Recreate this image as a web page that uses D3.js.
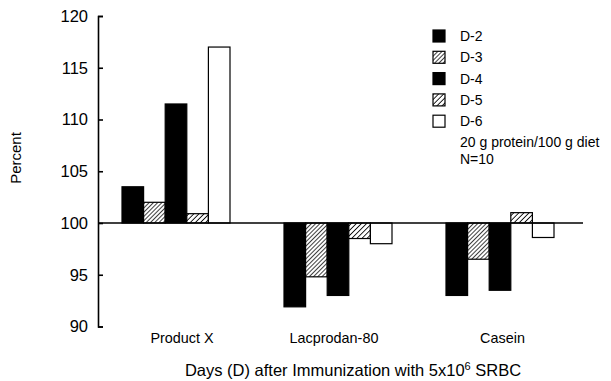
<!DOCTYPE html>
<html>
<head>
<meta charset="utf-8">
<script src="https://cdn.jsdelivr.net/npm/d3@7"></script>
<style>
  body { margin: 0; background: #fff; }
  svg text { font-family: "Liberation Sans", Arial, Helvetica, sans-serif; fill: #000; }
</style>
</head>
<body>
<svg id="chart" width="611" height="381"></svg>
<script>
// Percent response by day after immunization, per protein source

const groups = ['Product X', 'Lacprodan-80', 'Casein'];
const days = ['D-2', 'D-3', 'D-4', 'D-5', 'D-6'];
const productX = [103.5, 102, 111.5, 100.9, 117];
const lacprodan = [91.9, 94.8, 93, 98.5, 98];
const casein = [93, 96.5, 93.5, 101, 98.6];
const yTicks = [90, 95, 100, 105, 110, 115, 120];
const notes = ['20 g protein/100 g diet', 'N=10'];

const rows = [productX, lacprodan, casein].map((vals, i) => ({
  group: groups[i],
  values: days.map((d, j) => ({ day: d, value: vals[j] }))
}));

const svg = d3.select('#chart');
const AX = 98;

const y = d3.scaleLinear().domain([90, 120]).range([326.5, 16]);
const x0 = d3.scaleBand().domain(groups).range([95, 581]).paddingInner(1 / 3).paddingOuter(1 / 6);
const x1 = d3.scaleBand().domain(days).range([0, x0.bandwidth()]);

// hatch patterns for D-3 and D-5
const defs = svg.append('defs');
function hatch(id, gap, w) {
  const p = defs.append('pattern')
    .attr('id', id)
    .attr('patternUnits', 'userSpaceOnUse')
    .attr('width', gap).attr('height', gap)
    .attr('patternTransform', 'rotate(45)');
  p.append('rect').attr('width', gap).attr('height', gap).attr('fill', '#fff');
  p.append('line').attr('x1', 0).attr('y1', 0).attr('x2', 0).attr('y2', gap)
    .attr('stroke', '#000').attr('stroke-width', w);
}
hatch('h3', 3, 1.5);
hatch('h5', 3.6, 1.7);

const fills = { 'D-2': '#000', 'D-3': 'url(#h3)', 'D-4': '#000', 'D-5': 'url(#h5)', 'D-6': '#fff' };

// bars
const g = svg.selectAll('g.grp')
  .data(rows)
  .join('g')
  .attr('class', 'grp')
  .attr('transform', d => `translate(${x0(d.group)},0)`);

g.selectAll('rect')
  .data(d => d.values)
  .join('rect')
  .attr('x', d => x1(d.day))
  .attr('width', x1.bandwidth())
  .attr('y', d => y(Math.max(d.value, 100)))
  .attr('height', d => Math.abs(y(d.value) - y(100)))
  .attr('fill', d => fills[d.day])
  .attr('stroke', '#000')
  .attr('stroke-width', 1.2);

// baseline at 100
svg.append('line')
  .attr('x1', AX).attr('x2', 583)
  .attr('y1', y(100)).attr('y2', y(100))
  .attr('stroke', '#000').attr('stroke-width', 1.3);

// y axis with inward ticks
const yAxis = svg.append('g')
  .attr('transform', `translate(${AX},0)`)
  .call(d3.axisLeft(y).tickValues(yTicks).tickSizeInner(-5).tickSizeOuter(-5).tickPadding(10));
yAxis.selectAll('path, line').attr('stroke', '#000').attr('stroke-width', 1.6);
yAxis.selectAll('text').style('font-size', '16.5px').attr('fill', '#000');

svg.append('text')
  .attr('transform', 'rotate(-90)')
  .attr('x', -158).attr('y', 21)
  .attr('text-anchor', 'middle')
  .style('font-size', '15px')
  .text('Percent');

// category labels
const catShift = [6, -4, 2.5];
svg.selectAll('text.cat')
  .data(groups)
  .join('text')
  .attr('class', 'cat')
  .attr('x', (d, i) => x0(d) + x0.bandwidth() / 2 + catShift[i])
  .attr('y', 343)
  .attr('text-anchor', 'middle')
  .style('font-size', '14.4px')
  .text(d => d);

// x title
const xt = svg.append('text')
  .attr('x', 353).attr('y', 376)
  .attr('text-anchor', 'middle')
  .style('font-size', '16.5px');
xt.append('tspan').text('Days (D) after Immunization with 5x10');
xt.append('tspan').attr('dy', -6).style('font-size', '11px').text('6');
xt.append('tspan').attr('dy', 6).text(' SRBC');

// legend
const leg = svg.append('g').attr('transform', 'translate(433,30)');
const li = leg.selectAll('g')
  .data(days)
  .join('g')
  .attr('transform', (d, i) => `translate(0,${i * 21.3})`);
li.append('rect')
  .attr('width', 12).attr('height', 12)
  .attr('fill', d => fills[d])
  .attr('stroke', '#000').attr('stroke-width', 1.2);
li.append('text')
  .attr('x', 27).attr('y', 11)
  .style('font-size', '14px')
  .text(d => d);

leg.selectAll('text.note')
  .data(notes)
  .join('text')
  .attr('class', 'note')
  .attr('x', 27)
  .attr('y', (d, i) => 117 + i * 16.5)
  .style('font-size', '14px')
  .text(d => d);
</script>
</body>
</html>
